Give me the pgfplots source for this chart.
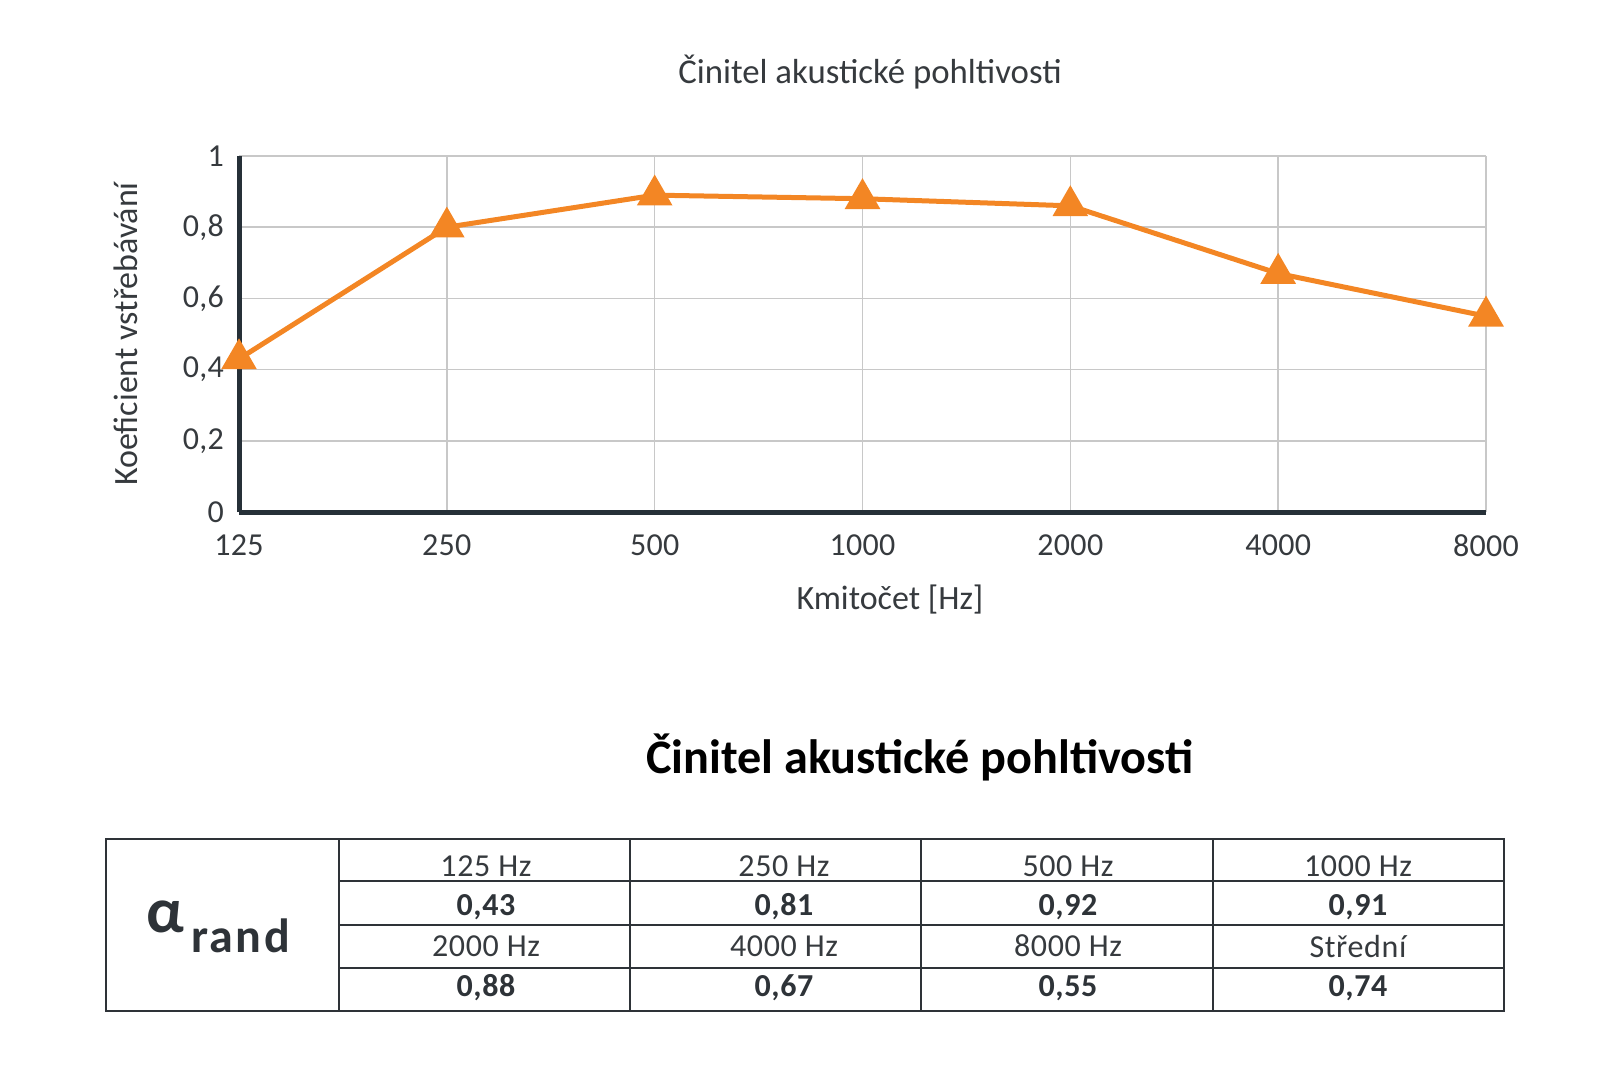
\documentclass[border=0pt]{standalone}
\usepackage{fontspec}
\setmainfont{Carlito}
\newfontfamily\tickfont[LetterSpace=1]{Carlito}
\newfontfamily\tabfont[LetterSpace=2]{Carlito}
\newfontfamily\randfont[LetterSpace=5]{Carlito}
\usepackage{pgfplots}
\pgfplotsset{compat=1.18}
\definecolor{orangeline}{HTML}{F38624}
\definecolor{gridgray}{HTML}{C8C8C8}
\definecolor{axisdark}{HTML}{263038}
\definecolor{textgray}{HTML}{363A3E}
\definecolor{tabdark}{HTML}{2E3338}
\begin{document}
\begin{tikzpicture}[x=0.5pt,y=-0.5pt]
\path[use as bounding box] (0,0) rectangle (1620,1080);
\begin{axis}[
  at={(119.5pt,-256pt)}, anchor=south west,
  scale only axis, width=623.5pt, height=178pt,
  xmin=0, xmax=6, ymin=0, ymax=1,
  xtick={0,1,2,3,4,5,6},
  xticklabels={125,250,500,1000,2000,4000,8000},
  ytick={0,0.2,0.4,0.6,0.8,1},
  yticklabels={0,{0,2},{0,4},{0,6},{0,8},1},
  grid=major,
  grid style={color=gridgray, line width=0.7pt},
  major tick length=0pt,
  axis x line*=bottom, axis y line*=left,
  axis line style={line width=2.5pt, color=axisdark, -},
  ticklabel style={font=\tickfont\fontsize{16}{19}\selectfont, text=textgray},
  xticklabel style={anchor=north, yshift=-8pt},
  yticklabel style={anchor=east, xshift=-4pt},
  clip=false,
]
\addplot[color=orangeline, line width=2.5pt, mark=triangle*, mark size=7.8pt,
  mark options={solid, draw=none, fill=orangeline}]
  coordinates {(0,0.43)(1,0.80)(2,0.89)(3,0.88)(4,0.86)(5,0.67)(6,0.55)};
\end{axis}
% titles and axis labels
\node[font=\fontsize{17.4}{20}\selectfont, text=textgray] at (870,72) {Činitel akustické pohltivosti};
\node[font=\fontsize{17}{20}\selectfont, text=textgray, rotate=90] at (126,334) {Koeficient vstřebávání};
\node[font=\fontsize{17}{20}\selectfont, text=textgray] at (890,600) {Kmitočet [Hz]};
\node[font=\bfseries\fontsize{24.1}{28}\selectfont, text=black] at (920,757) {Činitel akustické pohltivosti};
% table
\draw[tabdark, line width=1pt] (106,839) rectangle (1504,1011);
\foreach \xx in {339,630,921,1213} {\draw[tabdark, line width=1pt] (\xx,839) -- (\xx,1011);}
\foreach \yy in {881,925,968} {\draw[tabdark, line width=1pt] (339,\yy) -- (1504,\yy);}
\node[anchor=base west, inner sep=0pt, font=\bfseries\fontsize{32}{36}\selectfont, text=tabdark] at (146,932) {α};
\node[anchor=base west, inner sep=0pt, font=\randfont\bfseries\fontsize{24}{28}\selectfont, text=tabdark] at (191,952) {rand};
\begin{scope}[every node/.style={font=\tabfont\fontsize{16}{19}\selectfont, text=textgray}]
\node at (486,866) {125 Hz};
\node at (784,866) {250 Hz};
\node at (1068,866) {500 Hz};
\node at (1358,866) {1000 Hz};
\node at (486,946) {2000 Hz};
\node at (784,946) {4000 Hz};
\node at (1068,946) {8000 Hz};
\node at (1358,946) {Střední};
\end{scope}
\begin{scope}[every node/.style={font=\tabfont\bfseries\fontsize{16}{19}\selectfont, text=tabdark}]
\node at (486,907) {0,43};
\node at (784,907) {0,81};
\node at (1068,907) {0,92};
\node at (1358,907) {0,91};
\node at (486,988) {0,88};
\node at (784,988) {0,67};
\node at (1068,988) {0,55};
\node at (1358,988) {0,74};
\end{scope}
\end{tikzpicture}
\end{document}
